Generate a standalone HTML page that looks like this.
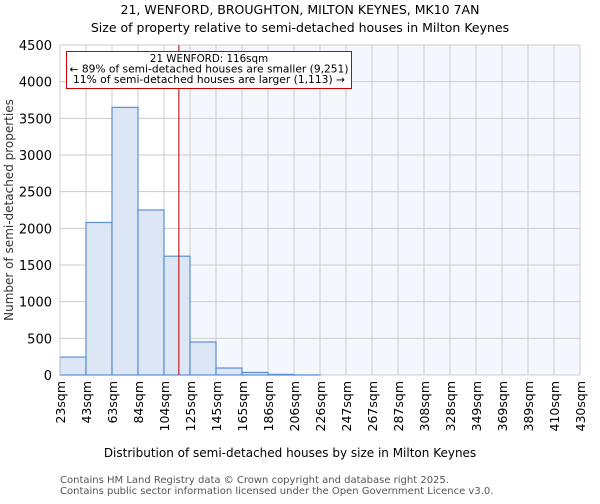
<!DOCTYPE html>
<html><head><meta charset="utf-8"><style>
body{margin:0;background:#fff;font-family:"DejaVu Sans","Liberation Sans",sans-serif}
</style></head><body>
<svg width="600" height="500" xmlns="http://www.w3.org/2000/svg" font-family="DejaVu Sans, Liberation Sans, sans-serif">
<text x="300" y="14" font-size="12.5" text-anchor="middle">21, WENFORD, BROUGHTON, MILTON KEYNES, MK10 7AN</text>
<text x="300" y="32" font-size="12.5" text-anchor="middle">Size of property relative to semi-detached houses in Milton Keynes</text>
<g id="plot"></g>
<text x="290" y="457" font-size="12" text-anchor="middle">Distribution of semi-detached houses by size in Milton Keynes</text>
<text transform="translate(13,210) rotate(-90)" font-size="12" text-anchor="middle" fill="#333">Number of semi-detached properties</text>
<text x="60" y="483" font-size="10" fill="#555">Contains HM Land Registry data © Crown copyright and database right 2025.</text>
<text x="60" y="494" font-size="10" fill="#555">Contains public sector information licensed under the Open Government Licence v3.0.</text>
</svg>
<script>
const binLabels=["23sqm","43sqm","63sqm","84sqm","104sqm","125sqm","145sqm","165sqm","186sqm","206sqm","226sqm","247sqm","267sqm","287sqm","308sqm","328sqm","349sqm","369sqm","389sqm","410sqm","430sqm"];
const binEdges=[23,43,63,84,104,125,145,165,186,206,226,247,267,287,308,328,349,369,389,410,430];
const counts=[245,2080,3650,2250,1620,450,95,35,8,1,0,0,0,0,0,0,0,0,0,0];
const yTicks=[0,500,1000,1500,2000,2500,3000,3500,4000,4500];
const propertySize=116;
const NS="http://www.w3.org/2000/svg";
const L=60,R=580,T=45,B=375,yMax=4500;
const nb=counts.length;
const xb=i=>L+i*(R-L)/nb;
const xv=v=>{for(let i=0;i<binEdges.length-1;i++){if(v<=binEdges[i+1])return xb(i)+(v-binEdges[i])/(binEdges[i+1]-binEdges[i])*(xb(i+1)-xb(i));}return R;};
const y=v=>B-v/yMax*(B-T);
const g=document.getElementById('plot');
function mk(t,a){const e=document.createElementNS(NS,t);for(const k in a)e.setAttribute(k,a[k]);g.appendChild(e);return e;}
const lx=xv(propertySize);
let e=mk('rect',{x:lx,y:T,width:R-lx,height:B-T,fill:'#f4f7fe'});


yTicks.forEach(t=>{const l=mk('line',{x1:L,x2:R,y1:y(t),y2:y(t),stroke:'#ccc','stroke-width':1});


const tx=mk('text',{x:L-8,y:y(t)+5,'font-size':13,'text-anchor':'end'});tx.textContent=t;

});
binLabels.forEach((s,i)=>{const x=xb(i);const l=mk('line',{x1:x,x2:x,y1:T,y2:B,stroke:'#ccc','stroke-width':1});


const tx=mk('text',{transform:`translate(${x+5},${B+6}) rotate(-90)`,'font-size':12.5,'text-anchor':'end'});tx.textContent=s;

});
counts.forEach((c,i)=>{if(c<=0)return;const r=mk('rect',{x:xb(i),y:y(c),width:xb(i+1)-xb(i),height:B-y(c),fill:'#dce6f4',stroke:'#5a8fd8','stroke-width':1.2});

});
e=mk('line',{x1:lx,x2:lx,y1:T,y2:B,stroke:'#b00','stroke-width':1});


e=mk('rect',{x:66.5,y:51.5,width:285,height:37,fill:'#fff',stroke:'#c00','stroke-width':1});


["21 WENFORD: 116sqm","← 89% of semi-detached houses are smaller (9,251)","11% of semi-detached houses are larger (1,113) →"].forEach((s,i)=>{const t=mk('text',{x:209,y:62+i*10.5,'font-size':10.3,'text-anchor':'middle',textLength:i==0?null:275});t.textContent=s;
if(i>0){t.setAttribute('textLength',i==1?279:272);t.setAttribute('lengthAdjust','spacingAndGlyphs');}else{t.removeAttribute('textLength');}

});
e=mk('line',{x1:L,x2:L,y1:T,y2:B,stroke:'#ccc'});


</script>
</body></html>
